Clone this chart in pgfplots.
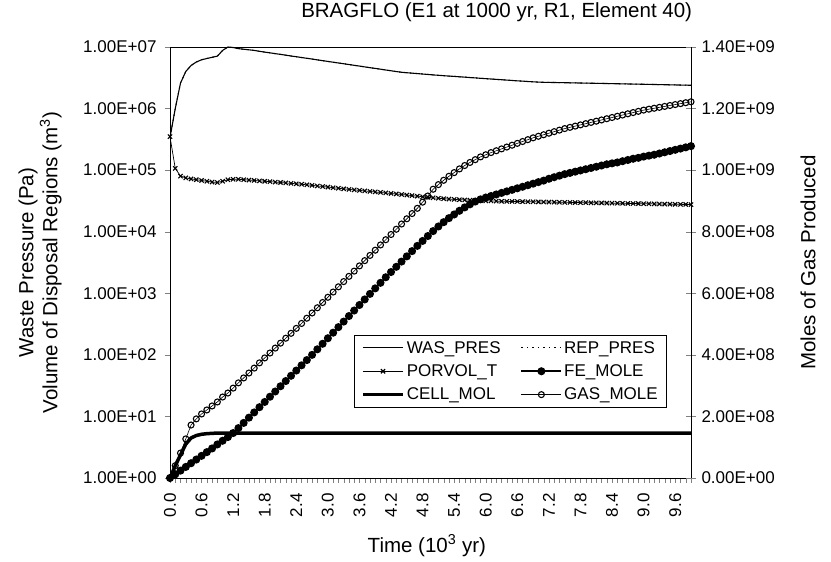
\documentclass[border=0pt]{standalone}
\usepackage{fontspec}
\setmainfont{Liberation Sans}
\usepackage{pgfplots}
\pgfplotsset{compat=1.18}
\usepackage{pgfplotstable}

% t = time (10^3 yr); was, por on left log axis; fe, cell, gas on right axis
\pgfplotstableread{
t was por fe cell gas
0.0 3.4e5 3.5e5 0 0 0
0.1 1.0e6 1.07e5 1.2e7 4.0e7 4.0e7
0.2 2.6e6 8.0e4 2.4e7 7.5e7 8.1e7
0.3 4.0e6 7.5e4 3.6e7 1.10e8 1.27e8
0.4 5.0e6 7.2e4 4.8e7 1.30e8 1.72e8
0.5 5.7e6 7.0e4 6.0e7 1.38e8 1.92e8
0.6 6.2e6 6.8e4 7.2e7 1.42e8 2.08e8
0.7 6.5e6 6.6e4 8.4e7 1.44e8 2.21e8
0.8 6.8e6 6.4e4 9.6e7 1.45e8 2.34e8
0.9 7.1e6 6.3e4 1.09e8 1.46e8 2.47e8
1.0 8.8e6 6.6e4 1.21e8 1.46e8 2.63e8
1.1 1.0e7 7.0e4 1.33e8 1.46e8 2.76e8
1.2 9.8e6 7.1e4 1.46e8 1.46e8 2.92e8
1.3 9.4e6 7.1e4 1.62e8 1.46e8 3.09e8
1.4 9.2e6 7.0e4 1.79e8 1.46e8 3.25e8
1.5 9.0e6 6.9e4 1.96e8 1.46e8 3.41e8
1.6 8.8e6 6.8e4 2.13e8 1.46e8 3.57e8
1.7 8.51e6 6.7e4 2.30e8 1.46e8 3.74e8
1.8 8.26e6 6.6e4 2.47e8 1.46e8 3.90e8
1.9 8.04e6 6.5e4 2.64e8 1.46e8 4.06e8
2.0 7.80e6 6.4e4 2.81e8 1.46e8 4.22e8
2.1 7.59e6 6.3e4 2.98e8 1.46e8 4.38e8
2.2 7.36e6 6.2e4 3.15e8 1.46e8 4.54e8
2.3 7.14e6 6.1e4 3.32e8 1.46e8 4.70e8
2.4 6.95e6 6.0e4 3.49e8 1.46e8 4.86e8
2.5 6.75e6 5.9e4 3.66e8 1.46e8 5.02e8
2.6 6.55e6 5.78e4 3.83e8 1.46e8 5.19e8
2.7 6.37e6 5.66e4 4.00e8 1.46e8 5.36e8
2.8 6.18e6 5.54e4 4.18e8 1.46e8 5.53e8
2.9 6.00e6 5.42e4 4.36e8 1.46e8 5.70e8
3.0 5.83e6 5.30e4 4.54e8 1.46e8 5.87e8
3.1 5.66e6 5.19e4 4.72e8 1.46e8 6.04e8
3.2 5.50e6 5.08e4 4.90e8 1.46e8 6.21e8
3.3 5.35e6 4.97e4 5.08e8 1.46e8 6.38e8
3.4 5.19e6 4.87e4 5.26e8 1.46e8 6.55e8
3.5 5.04e6 4.78e4 5.44e8 1.46e8 6.72e8
3.6 4.90e6 4.69e4 5.62e8 1.46e8 6.89e8
3.7 4.75e6 4.60e4 5.80e8 1.46e8 7.06e8
3.8 4.61e6 4.51e4 5.98e8 1.46e8 7.23e8
3.9 4.49e6 4.42e4 6.16e8 1.46e8 7.40e8
4.0 4.36e6 4.34e4 6.34e8 1.46e8 7.57e8
4.1 4.23e6 4.26e4 6.52e8 1.46e8 7.74e8
4.2 4.11e6 4.18e4 6.69e8 1.46e8 7.91e8
4.3 3.99e6 4.10e4 6.86e8 1.46e8 8.08e8
4.4 3.89e6 4.02e4 7.03e8 1.46e8 8.25e8
4.5 3.82e6 3.94e4 7.20e8 1.46e8 8.42e8
4.6 3.76e6 3.86e4 7.37e8 1.46e8 8.59e8
4.7 3.70e6 3.78e4 7.54e8 1.46e8 8.76e8
4.8 3.64e6 3.70e4 7.70e8 1.46e8 8.96e8
4.9 3.58e6 3.62e4 7.86e8 1.46e8 9.16e8
5.0 3.52e6 3.55e4 8.02e8 1.46e8 9.38e8
5.1 3.47e6 3.49e4 8.17e8 1.46e8 9.53e8
5.2 3.42e6 3.44e4 8.31e8 1.46e8 9.67e8
5.3 3.37e6 3.39e4 8.44e8 1.46e8 9.80e8
5.4 3.33e6 3.35e4 8.56e8 1.46e8 9.92e8
5.5 3.28e6 3.31e4 8.68e8 1.46e8 1.004e9
5.6 3.24e6 3.28e4 8.79e8 1.46e8 1.015e9
5.7 3.19e6 3.25e4 8.89e8 1.46e8 1.025e9
5.8 3.15e6 3.22e4 8.98e8 1.46e8 1.034e9
5.9 3.10e6 3.20e4 9.05e8 1.46e8 1.043e9
6.0 3.06e6 3.18e4 9.11e8 1.46e8 1.050e9
6.1 3.02e6 3.16e4 9.16e8 1.46e8 1.057e9
6.2 2.98e6 3.14e4 9.21e8 1.46e8 1.063e9
6.3 2.94e6 3.12e4 9.26e8 1.46e8 1.069e9
6.4 2.90e6 3.11e4 9.31e8 1.46e8 1.075e9
6.5 2.86e6 3.10e4 9.36e8 1.46e8 1.081e9
6.6 2.82e6 3.09e4 9.41e8 1.46e8 1.087e9
6.7 2.79e6 3.08e4 9.46e8 1.46e8 1.093e9
6.8 2.75e6 3.07e4 9.51e8 1.46e8 1.099e9
6.9 2.72e6 3.06e4 9.56e8 1.46e8 1.105e9
7.0 2.69e6 3.05e4 9.61e8 1.46e8 1.110e9
7.1 2.67e6 3.04e4 9.66e8 1.46e8 1.115e9
7.2 2.66e6 3.03e4 9.72e8 1.46e8 1.120e9
7.3 2.65e6 3.02e4 9.77e8 1.46e8 1.125e9
7.4 2.64e6 3.01e4 9.82e8 1.46e8 1.130e9
7.5 2.63e6 3.00e4 9.87e8 1.46e8 1.135e9
7.6 2.62e6 2.99e4 9.91e8 1.46e8 1.139e9
7.7 2.61e6 2.98e4 9.95e8 1.46e8 1.143e9
7.8 2.60e6 2.97e4 9.99e8 1.46e8 1.147e9
7.9 2.59e6 2.96e4 1.003e9 1.46e8 1.151e9
8.0 2.58e6 2.95e4 1.007e9 1.46e8 1.155e9
8.1 2.57e6 2.94e4 1.011e9 1.46e8 1.159e9
8.2 2.56e6 2.93e4 1.015e9 1.46e8 1.163e9
8.3 2.55e6 2.92e4 1.019e9 1.46e8 1.167e9
8.4 2.54e6 2.91e4 1.022e9 1.46e8 1.171e9
8.5 2.53e6 2.90e4 1.025e9 1.46e8 1.175e9
8.6 2.52e6 2.89e4 1.029e9 1.46e8 1.179e9
8.7 2.51e6 2.88e4 1.033e9 1.46e8 1.183e9
8.8 2.50e6 2.87e4 1.037e9 1.46e8 1.187e9
8.9 2.49e6 2.86e4 1.040e9 1.46e8 1.191e9
9.0 2.48e6 2.85e4 1.044e9 1.46e8 1.195e9
9.1 2.47e6 2.84e4 1.047e9 1.46e8 1.198e9
9.2 2.46e6 2.83e4 1.050e9 1.46e8 1.201e9
9.3 2.45e6 2.82e4 1.054e9 1.46e8 1.204e9
9.4 2.44e6 2.81e4 1.058e9 1.46e8 1.207e9
9.5 2.43e6 2.80e4 1.062e9 1.46e8 1.210e9
9.6 2.42e6 2.79e4 1.066e9 1.46e8 1.213e9
9.7 2.41e6 2.78e4 1.070e9 1.46e8 1.216e9
9.8 2.40e6 2.77e4 1.074e9 1.46e8 1.219e9
9.9 2.39e6 2.76e4 1.078e9 1.46e8 1.222e9
}\bragflo

\tikzset{
  tickfont/.style={font=\fontsize{17}{20}\selectfont},
  labelfont/.style={font=\fontsize{20.5}{24}\selectfont},
}
\pgfplotsset{
  legend image code/.code={\draw[mark repeat=2,mark phase=2,#1] plot coordinates {(0pt,0pt) (20pt,0pt) (40pt,0pt)};},
}

\begin{document}
\begin{tikzpicture}
\begin{axis}[
    name=main,
    scale only axis, width=521pt, height=431pt,
    xmin=0, xmax=9.9,
    ymode=log, ymin=1, ymax=1e7,
    clip=false,
    xtick pos=lower, ytick pos=left,
    tick align=outside,
    major tick length=5pt, minor tick length=5pt,
    yminorticks=false,
    ytick={1,10,100,1000,10000,100000,1000000,10000000},
    yticklabels={1.00E+00,1.00E+01,1.00E+02,1.00E+03,1.00E+04,1.00E+05,1.00E+06,1.00E+07},
    xtick={0,0.6,1.2,1.8,2.4,3.0,3.6,4.2,4.8,5.4,6.0,6.6,7.2,7.8,8.4,9.0,9.6},
    xticklabels={0.0,0.6,1.2,1.8,2.4,3.0,3.6,4.2,4.8,5.4,6.0,6.6,7.2,7.8,8.4,9.0,9.6},
    minor xtick={0,0.1,...,9.9},
    tick label style={tickfont},
    yticklabel style={xshift=-5pt},
    xticklabel style={rotate=90, anchor=east, xshift=-7pt},
    title={BRAGFLO (E1 at 1000 yr, R1, Element 40)},
    title style={labelfont, at={(0.627,1)}, anchor=base, yshift=23pt},
    xlabel={Time (10\textsuperscript{3} yr)},
    xlabel style={labelfont, at={(axis description cs:0.493,-0.172)}, anchor=base},
    ylabel={Waste Pressure (Pa)\\Volume of Disposal Regions (m\textsuperscript{3})},
    ylabel style={labelfont, align=center, at={(axis description cs:-0.2495,0.5)}, anchor=center},
    axis line style={line width=0.8pt},
]
\addplot[black, line width=1.1pt, no markers] table[x=t, y=was] {\bragflo};
\addplot[black, dash pattern=on 1.5pt off 4pt, line width=1pt, no markers] table[x=t, y=was] {\bragflo};
\addplot[black, line width=0.7pt, mark=x, mark size=3pt, mark options={line width=1.1pt}] table[x=t, y=por] {\bragflo};
\end{axis}

\begin{axis}[
    scale only axis, width=521pt, height=431pt,
    xmin=0, xmax=9.9, ymin=0, ymax=1.4e9,
    clip=false,
    scaled y ticks=false,
    axis x line=none, axis y line*=right,
    ytick align=center, major tick length=10pt,
    ytick={0,2e8,4e8,6e8,8e8,1e9,1.2e9,1.4e9},
    yticklabels={0.00E+00,2.00E+08,4.00E+08,6.00E+08,8.00E+08,1.00E+09,1.20E+09,1.40E+09},
    yticklabel style={tickfont, xshift=2pt},
    ylabel={Moles of Gas Produced},
    ylabel style={labelfont, at={(axis description cs:1.2246,0.5)}, anchor=center},
    axis line style={line width=0.8pt},
    legend columns=2,
    legend cell align=left,
    legend style={tickfont, at={(0.954,0.332)}, anchor=north east, draw=black, line width=0.6pt,
      row sep=6pt, inner xsep=7pt, inner ysep=4pt,
      /tikz/every even column/.append style={column sep=18pt}},
]
\addlegendimage{black, line width=1.1pt}
\addlegendentry{WAS\_PRES}
\addlegendimage{black, dash pattern=on 1.5pt off 4pt, line width=1pt}
\addlegendentry{REP\_PRES}
\addlegendimage{black, line width=0.8pt, mark=x, mark size=3pt, mark options={line width=1.1pt}}
\addlegendentry{PORVOL\_T}
\addplot[black, line width=1.6pt, mark=*, mark size=3.2pt] table[x=t, y=fe] {\bragflo};
\addlegendentry{FE\_MOLE}
\addplot[black, line width=3.5pt, no markers] table[x=t, y=cell] {\bragflo};
\addlegendentry{CELL\_MOL}
\addplot[black, line width=0.6pt, mark=o, mark size=3pt, mark options={fill=white, line width=1.1pt}] table[x=t, y=gas] {\bragflo};
\addlegendentry{GAS\_MOLE}
\end{axis}
\pgfresetboundingbox
\path (main.south west) ++(-170pt,-84pt) rectangle ++(831pt,562pt);
\end{tikzpicture}
\end{document}
